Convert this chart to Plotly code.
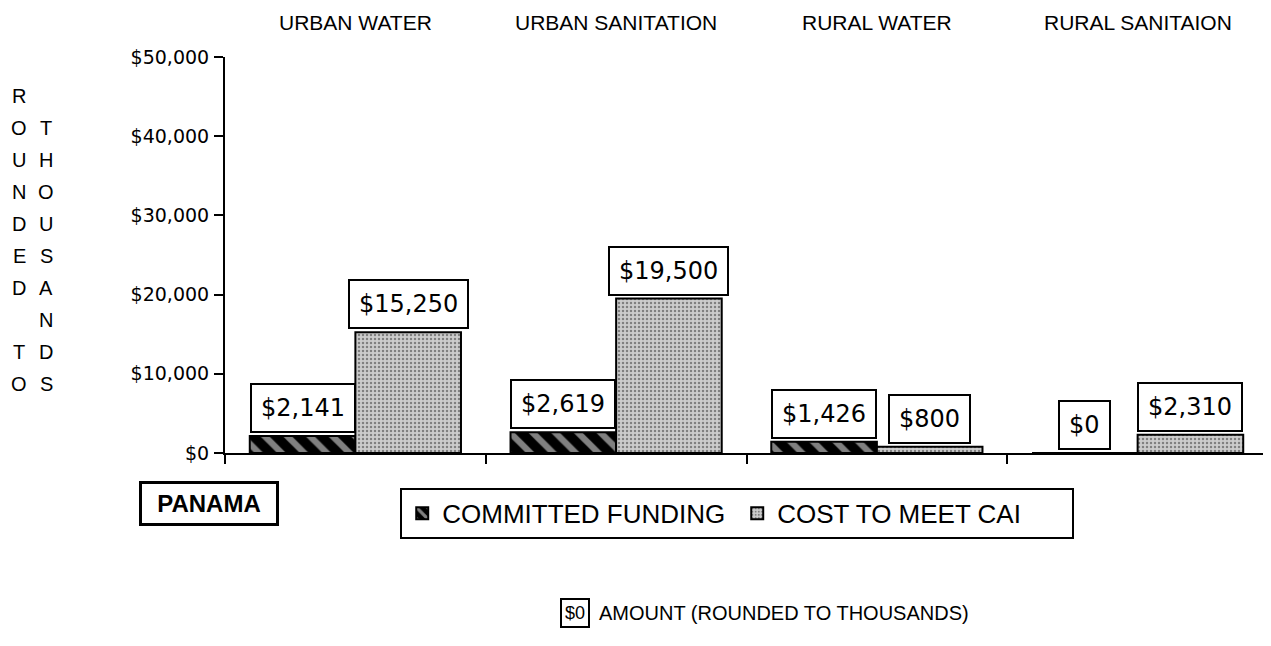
import plotly.graph_objects as go

# Dados (milhares de US$)
categorias = ["URBAN WATER", "URBAN SANITATION", "RURAL WATER", "RURAL SANITAION"]
committed = [2141, 2619, 1426, 0]
custo_cai = [15250, 19500, 800, 2310]
y_ticks = [0, 10000, 20000, 30000, 40000, 50000]
y_ticktext = [f"${v:,}" for v in y_ticks]

col_esq = list("ROUNDED TO")
col_dir = list(" THOUSANDS")

bargap = 0.19
fonte = "Liberation Sans, Arial, sans-serif"
fonte_num = "DejaVu Sans, sans-serif"

fig = go.Figure()

fig.add_trace(go.Bar(
    x=categorias, y=committed, name="COMMITTED FUNDING",
    marker=dict(color="black", line=dict(color="black", width=2),
                pattern=dict(shape="\\", fgcolor="white", bgcolor="black",
                             size=16, solidity=0.4)),
))
fig.add_trace(go.Bar(
    x=categorias, y=custo_cai, name="COST TO MEET CAI",
    marker=dict(color="#b8b8b8", line=dict(color="black", width=2),
                pattern=dict(shape=".", fgcolor="#333333", bgcolor="#cccccc",
                             size=4, solidity=0.3)),
))

# Rótulos com caixa sobre as barras
desloc = (1 - bargap) / 4
for i, (c, v) in enumerate(zip(committed, custo_cai)):
    for xi, val in ((i - desloc, c), (i + desloc, v)):
        fig.add_annotation(
            x=xi, y=val, xref="x", yref="y", xanchor="center", yanchor="bottom",
            text=f"${val:,}", showarrow=False, yshift=3,
            font=dict(family=fonte_num, size=24, color="black"),
            bgcolor="white", bordercolor="black", borderwidth=2, borderpad=9,
        )

# Nomes das categorias no topo
for cat in categorias:
    fig.add_annotation(
        x=cat, y=1, xref="x", yref="paper", yanchor="middle", yshift=35,
        text=cat, showarrow=False,
        font=dict(family=fonte, size=21, color="black"),
    )

# Título vertical do eixo y (letra por letra)
for k, (a, b) in enumerate(zip(col_esq, col_dir)):
    for xpx, letra in ((19, a), (46, b)):
        if letra.strip():
            fig.add_annotation(
                x=0, y=1, xref="paper", yref="paper",
                xanchor="center", yanchor="middle",
                xshift=xpx - 225, yshift=-(39 + 32 * k),
                text=letra, showarrow=False,
                font=dict(family=fonte, size=20, color="black"),
            )

# PANAMA
fig.add_annotation(
    x=0, y=0, xref="paper", yref="paper", xanchor="center", yanchor="middle",
    xshift=-16, yshift=-50, width=130, height=35,
    text="<b>PANAMA</b>", showarrow=False,
    font=dict(family=fonte, size=24, color="black"),
    bordercolor="black", borderwidth=3, borderpad=2,
)

# Nota de rodapé
fig.add_annotation(
    x=0, y=0, xref="paper", yref="paper", xanchor="center", yanchor="middle",
    xshift=350, yshift=-160,
    text="$0", showarrow=False,
    font=dict(family=fonte, size=18, color="black"),
    bordercolor="black", borderwidth=2, borderpad=3,
)
fig.add_annotation(
    x=0, y=0, xref="paper", yref="paper", xanchor="left", yanchor="middle",
    xshift=372, yshift=-160,
    text="AMOUNT (ROUNDED TO THOUSANDS)", showarrow=False,
    font=dict(family=fonte, size=20, color="black"),
)

fig.update_layout(
    width=1263, height=638,
    margin=dict(l=217, r=3, t=49, b=193),
    plot_bgcolor="white", paper_bgcolor="white",
    barmode="group", bargap=bargap, bargroupgap=0,
    showlegend=True,
    legend=dict(
        orientation="h", x=0.168, y=-0.088, xanchor="left", yanchor="top",
        bordercolor="black", borderwidth=2,
        font=dict(family=fonte, size=26, color="black"),
        itemwidth=30, entrywidth=290,
    ),
    xaxis=dict(
        showticklabels=False, showline=True, linecolor="black", linewidth=2,
        ticks="outside", tickson="boundaries", ticklen=9, tickwidth=2,
        tickcolor="black", showgrid=False, zeroline=False,
    ),
    yaxis=dict(
        range=[0, 50000], tickvals=y_ticks, ticktext=y_ticktext,
        showline=True, linecolor="black", linewidth=2, ticks="outside",
        ticklen=9, tickwidth=2, tickcolor="black", showgrid=False,
        zeroline=False, ticklabelstandoff=1,
        tickfont=dict(family=fonte_num, size=19, color="black"),
    ),
    yaxis2=dict(
        overlaying="y", range=[0, 50000], tickvals=y_ticks,
        showticklabels=False, ticks="inside", ticklen=9, tickwidth=2,
        tickcolor="black", showgrid=False, showline=False, zeroline=False,
    ),
    xaxis2=dict(
        overlaying="x", range=[-0.5, 3.5], tickvals=[0.5, 1.5, 2.5],
        showticklabels=False, ticks="inside", ticklen=9, tickwidth=2,
        tickcolor="black", showgrid=False, showline=False, zeroline=False,
        anchor="y",
    ),
)

fig.write_html("out.html")
